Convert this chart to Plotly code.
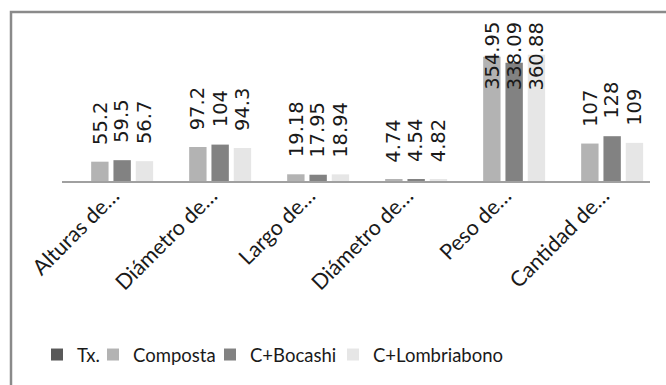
import plotly.graph_objects as go

# Measured variables (categories on the x axis)
categories = ["Alturas de…", "Diámetro de…", "Largo de…", "Diámetro de…", "Peso de…", "Cantidad de…"]

# Treatment series
series_names = ["Tx.", "Composta", "C+Bocashi", "C+Lombriabono"]
tx = [None, None, None, None, None, None]
composta = [55.2, 97.2, 19.18, 4.74, 354.95, 107]
bocashi = [59.5, 104, 17.95, 4.54, 338.09, 128]
lombriabono = [56.7, 94.3, 18.94, 4.82, 360.88, 109]

series_values = [tx, composta, bocashi, lombriabono]
series_colors = ["#595959", "#b3b3b3", "#828282", "#e6e6e6"]

W, H = 666, 385
M_L, M_R, M_T, M_B = 62, 16, 20, 204
Y_MAX = 460
BARGAP = 0.09
BARGROUPGAP = 0.22

LABEL_FONT = dict(family="DejaVu Sans", size=19.5, color="#1a1a1a")
TEXT_FONT = "Lato"

plot_w = W - M_L - M_R
plot_h = H - M_T - M_B


def px_x(p):
    return (p - M_L) / plot_w


def px_y(p):
    return 1 - (p - M_T) / plot_h


# one legend box per entry, centred where each key sits in the row
legend_keys = ["legend", "legend2", "legend3", "legend4"]
legend_centers_px = [71, 157, 276, 421]

x_idx = list(range(len(categories)))

fig = go.Figure()
for name, vals, col, lg in zip(series_names, series_values, series_colors, legend_keys):
    fig.add_trace(go.Bar(
        x=x_idx, y=vals, name=name, legend=lg,
        marker=dict(color=col, line=dict(width=0)),
        hoverinfo="skip",
    ))

# value labels, rotated and sitting above each bar
px_per_unit = plot_h / Y_MAX
n_series = len(series_names)
slot = (1 - BARGAP) / n_series
annotations = []
for k, vals in enumerate(series_values):
    offset = -0.5 * (1 - BARGAP) + (k + 0.5) * slot
    for j, v in enumerate(vals):
        if v is None:
            continue
        txt = f"{v:g}"
        text_len = len(txt) * 0.6 * LABEL_FONT["size"]
        gap = 15
        fits = v * px_per_unit + gap + text_len <= plot_h
        if fits:
            annotations.append(dict(
                x=j + offset, y=v, xref="x", yref="y", text=txt,
                textangle=-90, showarrow=False, font=LABEL_FONT,
                xanchor="center", yanchor="bottom", yshift=gap,
            ))
        else:
            annotations.append(dict(
                x=j + offset, y=Y_MAX, xref="x", yref="y", text=txt,
                textangle=-90, showarrow=False, font=LABEL_FONT,
                xanchor="center", yanchor="top",
            ))

# outer frame around the chart
frame = dict(
    type="rect", xref="paper", yref="paper",
    x0=px_x(11), x1=px_x(700), y0=px_y(420), y1=px_y(12),
    line=dict(color="#8a8a8a", width=2.5), fillcolor="rgba(0,0,0,0)",
    layer="below",
)

legend_common = dict(
    orientation="h", xanchor="center", y=px_y(355), yanchor="middle",
    font=dict(family=TEXT_FONT, size=18.5, color="#1a1a1a"),
    itemwidth=30, bgcolor="rgba(0,0,0,0)", borderwidth=0,
)
legend_layout = {
    lg: dict(legend_common, x=px_x(cx))
    for lg, cx in zip(legend_keys, legend_centers_px)
}

fig.update_layout(
    width=W, height=H,
    margin=dict(l=M_L, r=M_R, t=M_T, b=M_B, pad=0),
    paper_bgcolor="white", plot_bgcolor="white",
    barmode="group", bargap=BARGAP, bargroupgap=BARGROUPGAP,
    showlegend=True,
    xaxis=dict(
        tickmode="array", tickvals=x_idx, ticktext=categories,
        tickangle=-45, range=[-0.5, len(categories) - 0.5],
        showline=True, linecolor="#a0a0a0", linewidth=1.5,
        showgrid=False, zeroline=False, ticks="",
        ticklabelstandoff=-8, ticklabelshift=2,
        tickfont=dict(family=TEXT_FONT, size=21.5, color="#1a1a1a"),
    ),
    yaxis=dict(
        range=[0, Y_MAX], showticklabels=False, showgrid=False,
        zeroline=False, showline=False, ticks="",
    ),
    annotations=annotations,
    shapes=[frame],
    **legend_layout,
)

fig.write_html("out.html")
